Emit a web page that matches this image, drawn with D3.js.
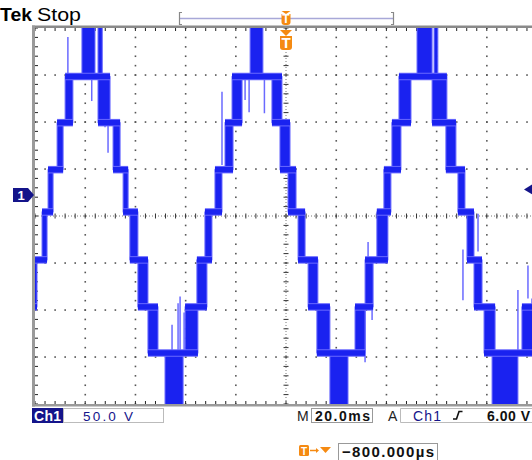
<!DOCTYPE html>
<html>
<head>
<meta charset="utf-8">
<script src="https://cdn.jsdelivr.net/npm/d3@7"></script>
<style>
  body { margin: 0; background: #fff; }
  svg { display: block; font-family: "Liberation Sans", "DejaVu Sans", sans-serif; }
</style>
</head>
<body>
<svg width="532" height="460"></svg>
<script>
// readings of the screen, time in ms from the left edge, volts on Ch1
let plateaus = [
  [-8.0, 0.8, -119], [-2.0, 4.8, -69], [2.8, 7.2, -18], [5.2, 11.2, 27], [8.8, 15.1, 77], [12.0, 29.9, 126],
  [25.1, 33.9, 77], [31.1, 37.1, 27], [35.1, 41.0, -18], [37.8, 45.0, -69], [41.0, 49.0, -119], [45.0, 64.9, -168],
  [59.8, 68.5, -119], [64.5, 70.5, -69], [67.7, 74.5, -18], [71.7, 78.9, 27], [75.7, 82.5, 77], [78.5, 98.4, 126],
  [94.4, 101.6, 77], [97.6, 104.0, 27], [100.8, 107.6, -18], [104.8, 112.7, -69], [108.8, 117.5, -119], [112.3, 131.5, -168],
  [127.5, 134.7, -119], [131.5, 140.6, -69], [136.2, 141.8, -18], [139.0, 145.8, 27], [142.2, 149.8, 77], [145.0, 164.1, 126],
  [158.2, 167.7, 77], [163.7, 171.3, 27], [168.5, 174.9, -18], [172.1, 178.1, -69], [174.9, 183.3, -119], [178.9, 203.2, -168],
  [194.0, 203.2, -119]
];

// pulse bursts at the crests, clipped by the screen
let bursts = [
  [18.7, 23.9, 126, 200], [25.1, 26.8, 126, 190],
  [51.8, 59.0, -168, -250],
  [85.7, 90.8, 126, 200],
  [117.5, 124.7, -168, -250],
  [152.2, 158.2, 126, 200], [159.0, 160.5, 126, 185],
  [182.1, 192.4, -168, -250]
];

// single glitches [t, from, to]
let spikes = [
  [13.1, 126, 168], [29.1, 126, 45], [27.9, 123, 72], [22.6, 126, 100],
  [54.6, -168, -138], [57.0, -168, -115], [57.8, -168, -108], [59.4, -168, -125],
  [74.5, 110, 32], [83.7, 124, 101], [85.3, 124, 88], [91.4, 124, 87], [96.6, 124, 94],
  [131.5, -119, -178], [132.7, -50, -122], [134.3, -94, -133],
  [170.5, -58, -112], [176.5, -20, -60], [192.4, -101, -165], [196.4, -75, -110], [198.0, -110, -150]
];

let voltsDiv = "50.0 V";
let timeDiv = "20.0ms";
let trigSource = "Ch1";
let trigLevel = "6.00 V";
let trigLevelV = 6.0;
let position = "\u2212800.000\u00b5s";

let $svg = d3.select("svg");

// screen: 10 x 8 divisions
let gx = d3.scaleLinear().domain([0, 10]).range([35, 537]);
let gy = d3.scaleLinear().domain([0, 8]).range([28, 404]);

let x = d3.scaleLinear().domain([0, 200]).range([35, 537]);
let y = d3.scaleLinear().domain([-222.3, 177.7]).range([404, 28]);

let navy = "#14148a";
let orange = "#f58a12";
let blue = "#1a22f0";
let blueLight = "#6a6aff";

$svg.append("defs").append("clipPath").attr("id", "screen")
  .append("rect").attr("x", 35).attr("y", 28).attr("width", 500).attr("height", 376);

// graticule dots
let grid = $svg.append("g");
let dots = [];
d3.range(1, 10).filter(i => i != 5).forEach(i => {
  d3.range(0, 8.01, 0.2).forEach(j => dots.push([gx(i), gy(j)]));
});
d3.range(1, 8).filter(k => k != 4).forEach(k => {
  d3.range(0, 10.01, 0.2).forEach(i => dots.push([gx(i), gy(k)]));
});
grid.selectAll("rect.dot").data(dots).join("rect")
  .classed("dot", true)
  .attr("x", d => d[0] - 0.75).attr("y", d => d[1] - 0.75)
  .attr("width", 1.6).attr("height", 1.6)
  .attr("fill", "#555");

// center crosshair
grid.append("line").attr("x1", 35).attr("x2", 532).attr("y1", gy(4)).attr("y2", gy(4))
  .attr("stroke", "#777").attr("stroke-dasharray", "1,2");
grid.append("line").attr("x1", gx(5)).attr("x2", gx(5)).attr("y1", 28).attr("y2", 404)
  .attr("stroke", "#777").attr("stroke-dasharray", "1,2");
grid.selectAll("line.tx").data(d3.range(0, 10.01, 0.2)).join("line")
  .classed("tx", true)
  .attr("x1", d => gx(d)).attr("x2", d => gx(d))
  .attr("y1", gy(4) - 2.5).attr("y2", gy(4) + 2.5)
  .attr("stroke", "#333");
grid.selectAll("line.ty").data(d3.range(0, 8.01, 0.2)).join("line")
  .classed("ty", true)
  .attr("x1", gx(5) - 2.5).attr("x2", gx(5) + 2.5)
  .attr("y1", d => gy(d)).attr("y2", d => gy(d))
  .attr("stroke", "#333");

// border ticks
grid.selectAll("line.bt").data(d3.range(0, 10.01, 0.2)).join("line")
  .classed("bt", true)
  .attr("x1", d => gx(d)).attr("x2", d => gx(d))
  .attr("y1", 28).attr("y2", 31).attr("stroke", "#222");
grid.selectAll("line.bb").data(d3.range(0, 10.01, 0.2)).join("line")
  .classed("bb", true)
  .attr("x1", d => gx(d)).attr("x2", d => gx(d))
  .attr("y1", 401).attr("y2", 404).attr("stroke", "#222");
grid.selectAll("line.bl").data(d3.range(0, 8.01, 0.2)).join("line")
  .classed("bl", true)
  .attr("x1", 35).attr("x2", 38)
  .attr("y1", d => gy(d)).attr("y2", d => gy(d)).attr("stroke", "#222");

// waveform
let wave = $svg.append("g").attr("clip-path", "url(#screen)");

wave.selectAll("line.spike").data(spikes).join("line")
  .classed("spike", true)
  .attr("x1", d => x(d[0])).attr("x2", d => x(d[0]))
  .attr("y1", d => y(d[1])).attr("y2", d => y(d[2]))
  .attr("stroke", blueLight).attr("stroke-width", 1.5);

wave.selectAll("rect.band").data(d3.pairs(plateaus)).join("rect")
  .classed("band", true)
  .attr("x", d => Math.min(x(d[1][0]), x(d[0][1])))
  .attr("width", d => Math.max(2, Math.abs(x(d[0][1]) - x(d[1][0]))))
  .attr("y", d => y(Math.max(d[0][2], d[1][2])))
  .attr("height", d => Math.abs(y(d[0][2]) - y(d[1][2])))
  .attr("fill", blue).attr("stroke", blueLight).attr("stroke-width", 1);

wave.selectAll("rect.burst").data(bursts).join("rect")
  .classed("burst", true)
  .attr("x", d => x(d[0]))
  .attr("width", d => x(d[1]) - x(d[0]))
  .attr("y", d => y(Math.max(d[2], d[3])))
  .attr("height", d => Math.abs(y(d[2]) - y(d[3])))
  .attr("fill", blue).attr("stroke", blueLight).attr("stroke-width", 1);

wave.selectAll("line.halo").data(plateaus).join("line")
  .classed("halo", true)
  .attr("x1", d => x(d[0])).attr("x2", d => x(d[1]))
  .attr("y1", d => y(d[2])).attr("y2", d => y(d[2]))
  .attr("stroke", blueLight).attr("stroke-width", 7.5);
wave.selectAll("line.plat").data(plateaus).join("line")
  .classed("plat", true)
  .attr("x1", d => x(d[0])).attr("x2", d => x(d[1]))
  .attr("y1", d => y(d[2])).attr("y2", d => y(d[2]))
  .attr("stroke", blue).attr("stroke-width", 5.5);

// frame
$svg.append("rect").attr("x", 32).attr("y", 25.5).attr("width", 500).attr("height", 2.5).attr("fill", "#8a8a8a");
$svg.append("rect").attr("x", 32).attr("y", 25.5).attr("width", 3).attr("height", 381).attr("fill", "#9a9a9a");
$svg.append("rect").attr("x", 32).attr("y", 404).attr("width", 500).attr("height", 2.5).attr("fill", "#9a9a9a");

// header
$svg.append("text").attr("x", 0).attr("y", 21).attr("font-size", 18).attr("font-weight", "bold")
  .attr("textLength", 32).attr("lengthAdjust", "spacingAndGlyphs").text("Tek");
$svg.append("text").attr("x", 37).attr("y", 21).attr("font-size", 18)
  .attr("textLength", 44).attr("lengthAdjust", "spacingAndGlyphs").text("Stop");

// record view bar
$svg.append("line").attr("x1", 179).attr("x2", 394).attr("y1", 18.5).attr("y2", 18.5)
  .attr("stroke", "#a8a8d8").attr("stroke-width", 1.5);
$svg.append("path").attr("d", "M182,12.5 H179.5 V24.5 H182 M391,12.5 H393.5 V24.5 H391")
  .attr("fill", "none").attr("stroke", "#888").attr("stroke-width", 1.2);

function trigMark(cx, top, w, h, tri) {
  let g = $svg.append("g");
  g.append("path")
    .attr("d", `M${cx - w / 2},${top} H${cx + w / 2} L${cx},${top + tri} Z`)
    .attr("fill", orange);
  g.append("path")
    .attr("d", `M${cx - w / 2},${top + tri} H${cx + w / 2} V${top + tri + h - 3} Q${cx + w / 2},${top + tri + h} ${cx + w / 2 - 3},${top + tri + h} H${cx - w / 2 + 3} Q${cx - w / 2},${top + tri + h} ${cx - w / 2},${top + tri + h - 3} Z`)
    .attr("fill", orange);
  g.append("text").attr("x", cx).attr("y", top + tri + h - 2.5).attr("text-anchor", "middle")
    .attr("fill", "#fff").attr("font-weight", "bold").attr("font-size", h + 1).text("T");
}
trigMark(gx(5), 11, 9, 11, 3);
trigMark(gx(5), 30, 12, 14, 6);

// channel ground marker
let gy0 = y(0);
$svg.append("path")
  .attr("d", `M13,${gy0 - 7} H28 L34,${gy0} L28,${gy0 + 7} H13 Z`)
  .attr("fill", navy);
$svg.append("text").attr("x", 21).attr("y", gy0 + 5).attr("text-anchor", "middle")
  .attr("fill", "#fff").attr("font-weight", "bold").attr("font-size", 13).text("1");

// trigger level marker
let ty = y(trigLevelV);
$svg.append("path").attr("d", `M524,${ty} L533,${ty - 5.5} L533,${ty + 5.5} Z`).attr("fill", navy);

// status line
$svg.append("rect").attr("x", 63.5).attr("y", 408.5).attr("width", 100).attr("height", 14)
  .attr("fill", "none").attr("stroke", "#bbb");
$svg.append("rect").attr("x", 32).attr("y", 408).attr("width", 31).attr("height", 15).attr("fill", navy);
$svg.append("text").attr("x", 34).attr("y", 420.5).attr("font-size", 14).attr("font-weight", "bold")
  .attr("fill", "#fff").attr("textLength", 27).text("Ch1");
$svg.append("text").attr("x", 83).attr("y", 420.5).attr("font-size", 13.5).attr("fill", navy)
  .attr("textLength", 50).text(voltsDiv);

$svg.append("text").attr("x", 297).attr("y", 420.5).attr("font-size", 14).attr("fill", "#222").text("M");
$svg.append("rect").attr("x", 311.5).attr("y", 408.5).attr("width", 61).attr("height", 14)
  .attr("fill", "none").attr("stroke", "#999");
$svg.append("text").attr("x", 315).attr("y", 420.5).attr("font-size", 14).attr("font-weight", "bold")
  .attr("fill", "#111").attr("textLength", 55).text(timeDiv);

$svg.append("text").attr("x", 388).attr("y", 420.5).attr("font-size", 14).attr("fill", "#222").text("A");
$svg.append("path").attr("d", "M400.5,408.5 H533 M400.5,408.5 V422.5 M400.5,422.5 H533")
  .attr("fill", "none").attr("stroke", "#bbb");
$svg.append("text").attr("x", 413).attr("y", 420.5).attr("font-size", 14).attr("fill", navy)
  .attr("textLength", 28).text(trigSource);
$svg.append("path").attr("d", "M453,419 H456.5 L459,411.5 H462.5")
  .attr("fill", "none").attr("stroke", "#111").attr("stroke-width", 1.6);
$svg.append("text").attr("x", 487).attr("y", 420.5).attr("font-size", 14).attr("font-weight", "bold")
  .attr("fill", "#111").attr("textLength", 43).text(trigLevel);

// horizontal position readout
$svg.append("rect").attr("x", 299).attr("y", 445).attr("width", 10).attr("height", 11).attr("rx", 1.5).attr("fill", orange);
$svg.append("text").attr("x", 304).attr("y", 454.5).attr("text-anchor", "middle").attr("font-size", 10)
  .attr("font-weight", "bold").attr("fill", "#fff").text("T");
$svg.append("line").attr("x1", 310).attr("x2", 317).attr("y1", 450.5).attr("y2", 450.5)
  .attr("stroke", orange).attr("stroke-width", 1.5);
$svg.append("path").attr("d", "M316,448 L319,450.5 L316,453 Z").attr("fill", orange);
$svg.append("path").attr("d", "M320,447 H331 L325.5,453 Z").attr("fill", orange);
$svg.append("rect").attr("x", 338.5).attr("y", 443.5).attr("width", 99).attr("height", 17)
  .attr("fill", "none").attr("stroke", "#999");
$svg.append("text").attr("x", 342).attr("y", 457).attr("font-size", 15).attr("font-weight", "bold")
  .attr("fill", "#111").attr("textLength", 92).text(position);
</script>
</body>
</html>
